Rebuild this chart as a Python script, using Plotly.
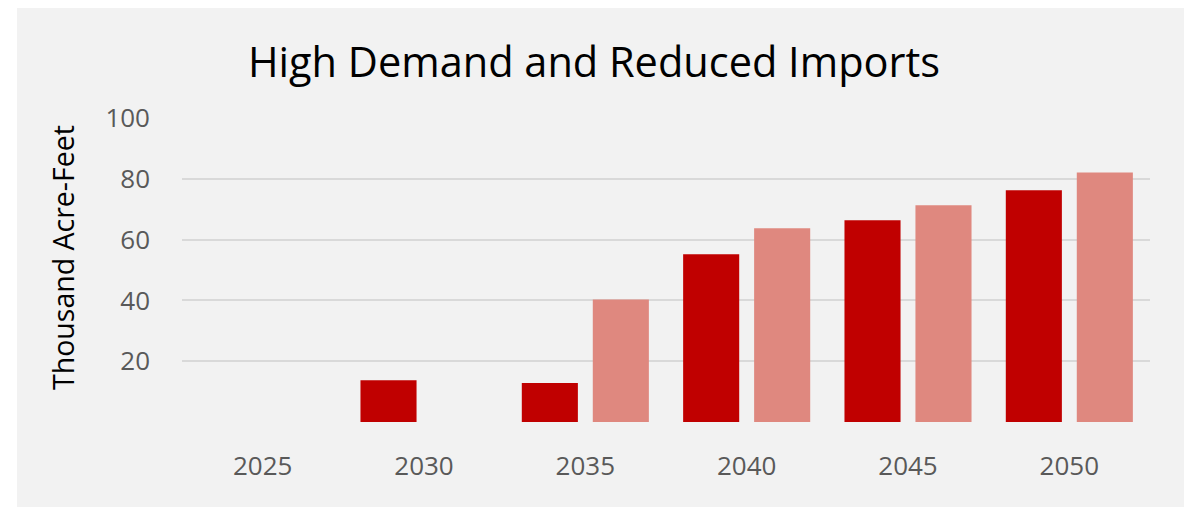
import plotly.graph_objects as go

years = ["2025", "2030", "2035", "2040", "2045", "2050"]
series_dark = [0, 13.7, 12.8, 55.2, 66.4, 76.2]
series_light = [0, 0, 40.3, 63.7, 71.3, 82.1]
y_tickvals = [0, 20, 40, 60, 80, 100]
y_ticktext = ["", "20", "40", "60", "80", "100"]

OFF = 8  # default page body margin
W, H = 1192 - OFF, 507 - OFF
L, R, T, B = 182 - OFF, 1192 - 1150, 118 - OFF, 507 - 422
pw, ph = W - L - R, H - T - B

def px_x(p):
    return (p - OFF - L) / pw

def px_y(p):
    return (H - B - (p - OFF)) / ph

fig = go.Figure()
fig.add_trace(go.Bar(x=years, y=series_dark, name="Series 1",
                     marker=dict(color="#c00000", line=dict(width=0))))
fig.add_trace(go.Bar(x=years, y=series_light, name="Series 2",
                     marker=dict(color="#df887f", line=dict(width=0))))

fig.add_shape(type="rect", xref="paper", yref="paper",
              x0=px_x(17), x1=px_x(1184), y0=px_y(510), y1=px_y(8),
              fillcolor="#f2f2f2", line=dict(width=0), layer="below")

fig.add_annotation(text="Thousand Acre-Feet", xref="paper", yref="paper",
                   x=px_x(63), y=px_y(258), showarrow=False, textangle=-90,
                   font=dict(family="Open Sans", size=28.5, color="#000000"),
                   xanchor="center", yanchor="middle")

fig.update_layout(
    width=W, height=H,
    margin=dict(l=L, r=R, t=T, b=B),
    paper_bgcolor="#ffffff",
    plot_bgcolor="rgba(0,0,0,0)",
    barmode="group",
    bargap=0.12,
    bargroupgap=0.21,
    showlegend=False,
    title=dict(text="High Demand and Reduced Imports", xref="paper", x=px_x(594),
               xanchor="center", yref="container", y=1 - (62 - OFF) / H,
               yanchor="middle",
               font=dict(family="Open Sans", size=41.5, color="#000000")),
    xaxis=dict(showgrid=False, showline=False, ticks="", zeroline=False,
               tickfont=dict(family="Open Sans", size=26, color="#595959"),
               ticklabelstandoff=26),
    yaxis=dict(range=[0, 100], tickvals=y_tickvals, ticktext=y_ticktext,
               showgrid=True, gridcolor="#d9d9d9", gridwidth=1.5,
               zeroline=False, showline=False, ticks="",
               tickfont=dict(family="Open Sans", size=26, color="#595959"),
               ticklabelstandoff=31),
)

fig.write_html("out.html")
